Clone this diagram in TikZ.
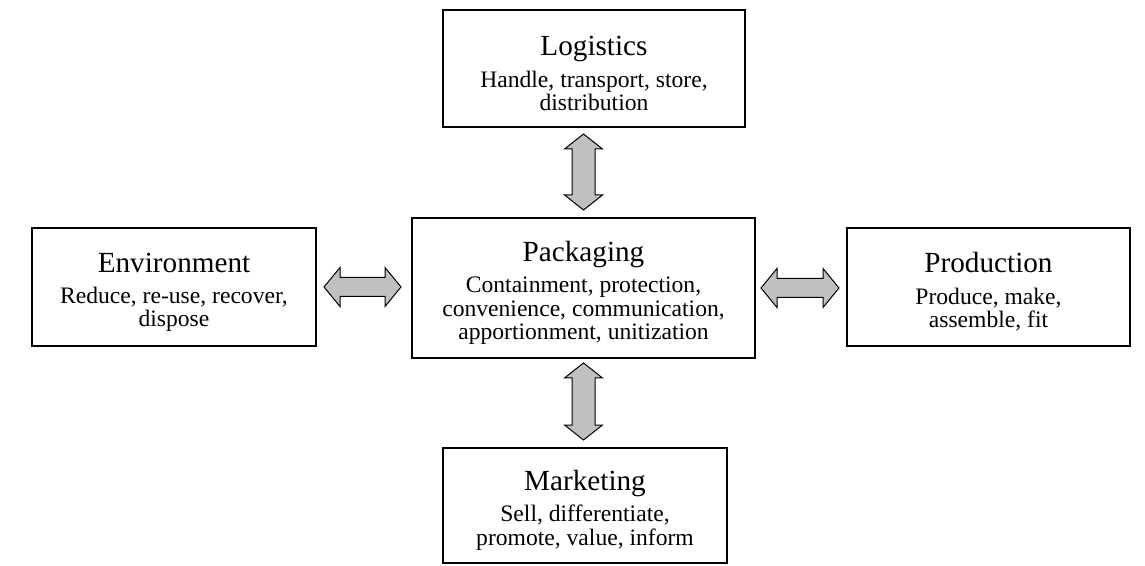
\documentclass[tikz,border=0pt]{standalone}
\usepackage{fontspec}
\setmainfont{Liberation Serif}
\usetikzlibrary{calc}
\newcommand\titlef{\fontsize{14.6}{14.6}\selectfont\rule{0pt}{15pt}}
\newcommand\bodyf{\fontsize{11.8}{11.7}\selectfont}
\tikzset{
  boxnode/.style={draw, line width=1pt, inner sep=0pt, align=center, font=\bodyf},
  fatarrow/.style={draw=black, line width=0.5pt, fill=arrowgray, line join=miter},
}
\definecolor{arrowgray}{HTML}{C0C0C0}
\newcommand\vfat[4]{%
  \draw[fatarrow] let \p1=($(#1.south -| pack.center)+(0,-#3)$), \p2=($(#2.north -| pack.center)+(0,#4)$) in
    (\x1,\y1) -- (\x1+9.5pt,\y1-7.5pt) -- (\x1+5.75pt,\y1-7.5pt) -- (\x1+5.75pt,\y2+7.5pt)
    -- (\x1+9.5pt,\y2+7.5pt) -- (\x1,\y2) -- (\x1-9.5pt,\y2+7.5pt) -- (\x1-5.75pt,\y2+7.5pt)
    -- (\x1-5.75pt,\y1-7.5pt) -- (\x1-9.5pt,\y1-7.5pt) -- cycle;}
\newcommand\hfat[4]{%
  \draw[fatarrow] let \p1=($(#1.east)+(#3,0)$), \p2=($(#2.west |- #1.east)+(-#4,0)$) in
    (\x1,\y1) -- (\x1+8pt,\y1+9.75pt) -- (\x1+8pt,\y1+4.75pt) -- (\x2-8pt,\y1+4.75pt)
    -- (\x2-8pt,\y1+9.75pt) -- (\x2,\y1) -- (\x2-8pt,\y1-9.75pt) -- (\x2-8pt,\y1-4.75pt)
    -- (\x1+8pt,\y1-4.75pt) -- (\x1+8pt,\y1-9.75pt) -- cycle;}
\begin{document}
\begin{tikzpicture}[x=0.5pt,y=-0.5pt]
\useasboundingbox (0,0) rectangle (1145,566);
\node[boxnode, minimum width=151pt, minimum height=58.5pt] (log) at (594,68.5)
  {\titlef Logistics\\[4pt]Handle, transport, store,\\distribution};
\node[boxnode, minimum width=171.5pt, minimum height=70pt] (pack) at (583.5,288)
  {\titlef Packaging\\[4pt]Containment, protection,\\convenience, communication,\\apportionment, unitization};
\node[boxnode, minimum width=142pt, minimum height=59pt] (env) at (174,287)
  {\titlef Environment\\[4pt]Reduce, re-use, recover,\\dispose};
\node[boxnode, minimum width=141.5pt, minimum height=59pt] (prod) at (988.5,287)
  {\titlef Production\\[4pt]Produce, make,\\assemble, fit};
\node[boxnode, minimum width=142pt, minimum height=57.5pt] (mkt) at (585,505.5)
  {\titlef Marketing\\[4pt]Sell, differentiate,\\promote, value, inform};
\vfat{log}{pack}{3pt}{3.5pt}
\vfat{pack}{mkt}{2pt}{3.5pt}
\hfat{env}{pack}{3.5pt}{5pt}
\hfat{pack}{prod}{2.5pt}{3.5pt}
\end{tikzpicture}
\end{document}
